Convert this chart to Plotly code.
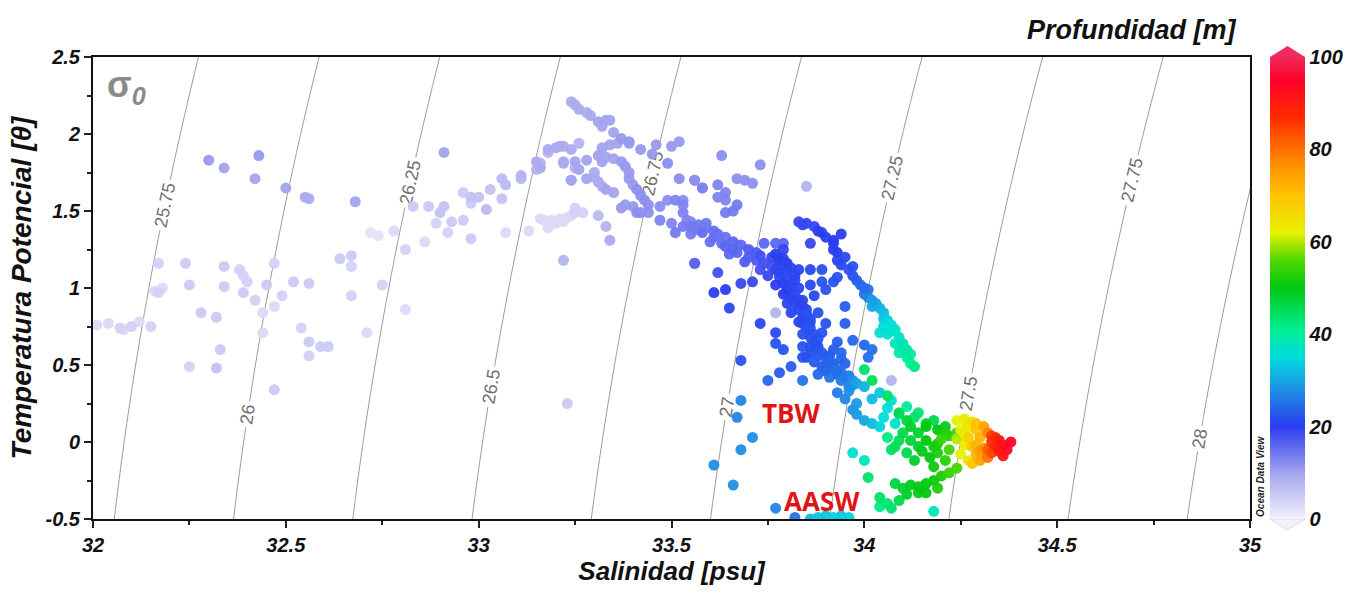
import numpy as np
import plotly.graph_objects as go

# ---------------- data ----------------
# surface scattered water (left part)
surf_S = [32.01, 32.04, 32.07, 32.08, 32.10, 32.12, 32.15, 32.16, 32.17, 32.18, 32.17, 32.24, 32.25, 32.34, 32.34,
          32.38, 32.39, 32.39, 32.40, 32.42, 32.45, 32.47, 32.47, 32.44, 32.49, 32.52, 32.56, 32.28, 32.32, 32.44,
          32.54, 32.56, 32.59, 32.61, 32.56, 32.33, 32.25, 32.32, 32.47, 32.64, 32.67, 32.67, 32.67, 32.75, 32.81,
          32.71, 32.72, 32.74, 32.78, 32.81, 32.30, 32.34, 32.43, 32.42, 32.50, 32.55, 32.56, 32.68, 32.91]
surf_T = [0.76, 0.77, 0.74, 0.73, 0.75, 0.78, 0.75, 0.98, 0.97, 1.00, 1.16, 1.16, 1.02, 1.14, 1.01,
          1.12, 1.08, 0.97, 1.04, 0.92, 1.02, 1.16, 0.88, 0.84, 0.95, 1.04, 1.03, 0.84, 0.81, 0.71,
          0.74, 0.65, 0.62, 0.62, 0.56, 0.60, 0.49, 0.48, 0.34, 1.19, 1.21, 1.14, 0.95, 1.02, 0.86,
          0.71, 1.36, 1.34, 1.37, 1.25, 1.83, 1.78, 1.86, 1.71, 1.65, 1.59, 1.58, 1.56, 1.88]
surf_D = [3, 3, 4, 3, 4, 3, 4, 3, 4, 3, 4, 5, 5, 5, 5,
          4, 4, 5, 4, 4, 5, 4, 3, 3, 4, 5, 5, 5, 5, 3,
          4, 5, 5, 5, 4, 5, 4, 6, 5, 5, 5, 4, 4, 4, 3,
          3, 2, 2, 3, 4, 11, 10, 11, 10, 10, 9, 9, 10, 10]

# arc between 32.8 and 33.35 psu
arc_S = [32.83, 32.87, 32.90, 32.91, 32.96, 32.98, 32.98, 33.00, 33.02, 33.03, 33.06, 33.06, 33.07, 33.11, 33.11,
         33.15, 33.16, 33.18, 33.21, 33.24, 33.22, 33.25, 33.24, 32.89, 32.93, 32.96, 32.92, 32.98, 32.86, 33.07,
         33.13, 33.16, 33.17, 33.19, 33.21, 33.23, 33.25, 33.25, 33.27, 33.18, 33.20, 33.22, 33.24, 33.31, 33.33,
         33.34, 33.22, 33.15, 33.16, 33.18, 33.20, 33.22, 33.26, 33.22, 33.25, 33.28, 33.26, 33.24, 33.28, 33.23]
arc_T = [1.53, 1.53, 1.49, 1.53, 1.62, 1.59, 1.55, 1.59, 1.51, 1.64, 1.71, 1.58, 1.67, 1.71, 1.73,
         1.77, 1.81, 1.88, 1.92, 1.90, 1.81, 1.78, 1.70, 1.42, 1.43, 1.44, 1.36, 1.32, 1.30, 1.36,
         1.37, 1.45, 1.44, 1.44, 1.45, 1.46, 1.49, 1.52, 1.49, 1.39, 1.42, 1.43, 1.47, 1.47, 1.40,
         1.31, 1.18, 1.82, 1.78, 1.90, 1.91, 1.92, 1.94, 1.82, 1.82, 1.83, 1.77, 1.70, 1.71, 0.25]
arc_D = [5, 5, 6, 6, 5, 6, 5, 6, 7, 6, 7, 6, 7, 7, 8,
         8, 8, 8, 9, 9, 9, 8, 9, 4, 5, 5, 4, 5, 3, 3,
         3, 3, 3, 3, 3, 3, 4, 4, 4, 3, 3, 3, 3, 7, 8,
         9, 8, 9, 9, 9, 9, 9, 8, 9, 10, 10, 10, 10, 10, 5]

# warm maximum near 33.3-33.7 psu
top_S = [33.24, 33.25, 33.26, 33.28, 33.29, 33.31, 33.33, 33.34, 33.32, 33.35, 33.37, 33.39, 33.39, 33.36, 33.34,
         33.32, 33.31, 33.32, 33.33, 33.35, 33.37, 33.38, 33.39, 33.39, 33.40, 33.41, 33.42, 33.43, 33.44, 33.44,
         33.41, 33.40, 33.38, 33.37, 33.30, 33.30, 33.31, 33.32, 33.33, 33.35, 33.42, 33.46, 33.50, 33.52, 33.42,
         33.45, 33.49, 33.63, 33.73, 33.56, 33.58, 33.67, 33.69, 33.71, 33.62, 33.64, 33.64, 33.85]
top_T = [2.21, 2.19, 2.16, 2.14, 2.12, 2.08, 2.09, 2.09, 2.05, 2.01, 1.97, 1.95, 1.94, 1.94, 1.93,
         1.91, 1.86, 1.82, 1.85, 1.84, 1.82, 1.79, 1.75, 1.71, 1.67, 1.64, 1.60, 1.57, 1.54, 1.49,
         1.49, 1.53, 1.54, 1.52, 1.75, 1.72, 1.69, 1.66, 1.64, 1.62, 1.49, 1.93, 1.92, 1.95, 1.90,
         1.87, 1.81, 1.86, 1.80, 1.70, 1.65, 1.71, 1.70, 1.68, 1.67, 1.62, 1.57, 1.66]
top_D = [9, 9, 9, 9, 9, 10, 10, 10, 10, 10, 11, 11, 11, 10, 10,
         10, 10, 10, 10, 10, 11, 11, 11, 11, 11, 12, 12, 12, 12, 12,
         12, 11, 11, 11, 9, 9, 9, 9, 10, 10, 12, 11, 11, 11, 11,
         11, 12, 12, 12, 12, 13, 12, 12, 12, 13, 13, 13, 8]

# main descending ribbon (lavender to blue)
rib_S = [33.52, 33.56, 33.58, 33.47, 33.49, 33.51, 33.53, 33.53, 33.54, 33.55, 33.57, 33.47, 33.50, 33.51, 33.56,
         33.53, 33.59, 33.62, 33.64, 33.67, 33.66,
         33.53, 33.56, 33.58, 33.61, 33.63, 33.64, 33.66, 33.67, 33.70, 33.72, 33.74, 33.76, 33.77, 33.78, 33.79,
         33.80, 33.81, 33.82, 33.83, 33.84, 33.84, 33.85, 33.86, 33.87, 33.88, 33.90, 33.92, 33.93, 33.95, 33.97,
         33.98, 33.55, 33.60, 33.65, 33.69, 33.73, 33.75, 33.77, 33.79, 33.80, 33.81, 33.83, 33.84, 33.86, 33.88,
         33.90, 33.93, 33.96,
         33.77, 33.78, 33.79, 33.78, 33.80, 33.80, 33.81, 33.79, 33.82, 33.76,
         33.84, 33.86, 33.88, 33.87, 33.89, 33.91, 33.90, 33.92, 33.85, 33.94, 33.88, 33.91,
         33.83, 33.86, 33.89, 33.93, 33.92, 33.89, 33.90, 33.84, 33.88, 33.90, 33.95, 33.89, 33.93, 33.97, 34.00,
         34.02, 34.01, 33.95, 33.94, 33.95, 33.84, 33.90, 33.86, 33.87, 33.85, 33.86,
         33.61, 33.64, 33.65, 33.68, 33.71, 33.74, 33.77, 33.79, 33.73, 33.77, 33.77, 33.79, 33.81, 33.78, 33.75,
         33.84, 33.62, 33.56, 33.68, 33.77, 34.07]
rib_T = [1.71, 1.70, 1.65, 1.53, 1.57, 1.57, 1.54, 1.49, 1.44, 1.40, 1.38, 1.44, 1.42, 1.36, 1.16,
         1.57, 1.42, 1.59, 1.49, 1.54, 1.50,
         1.40, 1.38, 1.36, 1.33, 1.29, 1.27, 1.25, 1.23, 1.20, 1.18, 1.16, 1.14, 1.12, 1.07, 1.03,
         0.99, 0.94, 0.90, 0.86, 0.81, 0.77, 0.73, 0.68, 0.64, 0.60, 0.55, 0.51, 0.47, 0.42, 0.40,
         0.38, 1.35, 1.30, 1.22, 1.17, 1.12, 1.08, 1.02, 0.96, 0.90, 0.84, 0.78, 0.70, 0.62, 0.56,
         0.50, 0.44, 0.36,
         1.22, 1.18, 1.15, 1.10, 1.12, 1.06, 1.01, 1.25, 1.08, 1.20,
         0.62, 0.58, 0.62, 0.52, 0.49, 0.56, 0.46, 0.60, 0.55, 0.54, 0.44, 0.42,
         1.12, 1.12, 1.12, 1.07, 1.04, 1.04, 0.99, 0.92, 0.84, 0.77, 0.77, 0.71, 0.65, 0.66, 0.63,
         0.60, 0.55, 0.88, 0.58, 0.51, 0.55, 0.47, 1.02, 0.95, 0.86, 0.78,
         0.97, 0.99, 0.87, 1.03, 1.04, 1.29, 1.29, 1.29, 0.77, 0.71, 0.64, 0.60, 0.49, 0.45, 0.40,
         0.40, 1.10, 1.16, 0.53, 0.84, 0.40]
rib_D = [12, 12, 13, 12, 12, 13, 13, 13, 13, 14, 14, 13, 13, 14, 15,
         12, 14, 13, 14, 14, 14,
         14, 14, 15, 15, 15, 16, 16, 16, 17, 17, 18, 18, 19, 19, 20,
         20, 20, 21, 21, 21, 21, 22, 22, 22, 22, 23, 24, 25, 26, 28,
         30, 14, 15, 16, 17, 18, 19, 20, 20, 21, 21, 21, 22, 22, 23,
         24, 25, 27,
         20, 20, 21, 21, 21, 21, 21, 19, 21, 19,
         22, 22, 22, 23, 23, 23, 24, 23, 22, 24, 24, 25,
         21, 21, 22, 22, 22, 22, 22, 21, 22, 22, 23, 22, 23, 24, 24,
         25, 25, 23, 24, 24, 22, 24, 21, 21, 21, 22,
         20, 20, 21, 19, 19, 16, 16, 16, 21, 21, 22, 22, 23, 23, 24,
         25, 18, 16, 22, 8, 8]

# denser parts of the ribbon core
core_S = [33.55, 33.57, 33.59, 33.61, 33.62, 33.64, 33.66, 33.68, 33.70, 33.72, 33.73,
          33.79, 33.80, 33.81, 33.82, 33.83, 33.82, 33.83, 33.84, 33.85, 33.86, 33.86, 33.87, 33.88,
          33.89, 33.91, 33.92, 33.94, 33.96, 33.94, 33.97]
core_T = [1.43, 1.41, 1.39, 1.37, 1.35, 1.33, 1.30, 1.28, 1.25, 1.23, 1.21,
          1.19, 1.16, 1.13, 1.05, 1.00, 0.96, 0.92, 0.88, 0.83, 0.80, 0.74, 0.70, 0.67,
          0.58, 0.52, 0.48, 0.45, 0.43, 0.40, 0.37]
core_D = [13, 14, 14, 15, 15, 15, 16, 16, 17, 17, 18,
          20, 20, 21, 21, 21, 21, 21, 21, 22, 22, 22, 22, 22,
          23, 24, 24, 25, 26, 26, 28]

# right-hand track (blue to cyan)
trk_S = [33.83, 33.85, 33.87, 33.88, 33.90, 33.92, 33.92, 33.93, 33.94, 33.92, 33.86, 33.93, 33.94, 33.96, 33.97,
         33.98, 33.99, 34.01, 34.01, 34.03, 34.04, 34.05, 34.06, 34.07, 34.08, 34.09, 34.10, 34.11, 34.11, 34.12,
         34.13, 34.04, 34.06, 34.08, 34.09, 34.05, 33.89, 33.84, 34.00, 34.02,
         33.95, 33.97, 34.00, 34.02, 34.05, 34.07, 34.10, 34.12]
trk_T = [1.43, 1.42, 1.40, 1.37, 1.33, 1.29, 1.25, 1.23, 1.35, 1.31, 1.29, 1.18, 1.15, 1.12, 1.08,
         1.05, 1.02, 0.99, 0.94, 0.90, 0.87, 0.84, 0.79, 0.76, 0.73, 0.68, 0.64, 0.60, 0.55, 0.51,
         0.49, 0.71, 0.70, 0.64, 0.58, 0.75, 1.36, 1.41, 0.96, 0.88,
         1.20, 1.14, 1.00, 0.92, 0.80, 0.72, 0.62, 0.57]
trk_D = [19, 19, 19, 20, 20, 20, 20, 20, 20, 20, 19, 21, 21, 22, 22,
         23, 24, 25, 27, 29, 31, 32, 34, 35, 36, 37, 38, 39, 40, 41,
         42, 36, 36, 38, 39, 35, 19, 19, 25, 30,
         21, 22, 25, 29, 33, 36, 38, 40]

# lower band (cyan to green)
low_S = [33.93, 33.95, 33.97, 33.98, 34.00, 34.02, 34.04, 34.00, 34.04, 34.07, 34.11, 34.14, 34.18, 34.21, 34.24,
         33.96, 34.02, 34.06, 34.09, 33.98, 34.05, 34.08, 34.00, 34.02, 34.06, 33.97, 34.00, 34.01, 34.04,
         34.13, 34.16, 34.19, 34.22]
low_T = [0.32, 0.28, 0.21, 0.18, 0.14, 0.12, 0.10, 0.36, 0.32, 0.27, 0.23, 0.19, 0.14, 0.10, 0.06,
         0.33, 0.28, 0.22, 0.18, 0.25, 0.16, 0.12, 0.47, 0.40, 0.30, -0.07, -0.12, -0.23, -0.36,
         0.16, 0.12, 0.08, 0.04]
low_D = [26, 27, 28, 29, 30, 32, 34, 31, 33, 36, 40, 43, 46, 49, 55,
         28, 32, 35, 38, 29, 35, 37, 44, 45, 44, 36, 38, 44, 44,
         44, 47, 50, 53]

# green cluster
grn_S = [34.09, 34.11, 34.12, 34.14, 34.16, 34.18, 34.19, 34.21, 34.19, 34.16, 34.21, 34.12, 34.14, 34.09, 34.08,
         34.11, 34.13, 34.17, 34.18, 34.07, 34.10, 34.15, 34.20, 34.22, 34.06]
grn_T = [0.19, 0.14, 0.10, 0.06, 0.01, -0.03, -0.07, -0.12, -0.01, 0.10, 0.06, 0.01, -0.03, 0.01, -0.03,
         -0.07, -0.12, -0.10, -0.16, -0.05, 0.06, -0.06, 0.02, -0.05, 0.03]
grn_D = [46, 47, 48, 48, 50, 51, 52, 53, 52, 50, 52, 47, 48, 45, 45,
         46, 48, 50, 51, 44, 46, 49, 54, 55, 42]

# deepest water (yellow, orange, red)
deep_S = [34.24, 34.26, 34.27, 34.25, 34.28, 34.24, 34.26, 34.25, 34.27,
          34.29, 34.30, 34.31, 34.28, 34.29, 34.31, 34.30, 34.32, 34.27, 34.28,
          34.33, 34.34, 34.35, 34.36, 34.37, 34.35, 34.38, 34.33, 34.36, 34.32, 34.34,
          34.26, 34.29, 34.30, 34.32, 34.29, 34.33, 34.35]
deep_T = [0.14, 0.15, 0.10, 0.08, 0.13, 0.02, -0.02, -0.08, -0.12,
          0.08, 0.03, 0.10, -0.03, -0.08, -0.04, -0.12, 0.06, 0.03, -0.14,
          0.00, -0.03, 0.01, -0.02, -0.05, -0.06, 0.00, -0.07, -0.09, -0.05, 0.03,
          0.05, 0.12, -0.06, -0.10, -0.02, 0.04, -0.03]
deep_D = [62, 63, 64, 62, 66, 60, 63, 62, 65,
          70, 72, 74, 70, 72, 76, 74, 78, 68, 70,
          86, 88, 90, 92, 93, 90, 95, 84, 91, 82, 87,
          64, 70, 75, 80, 72, 85, 89]

# lower green tail
tail_S = [34.24, 34.22, 34.20, 34.18, 34.16, 34.14, 34.12, 34.10, 34.08, 34.11, 34.09, 34.14, 34.06, 34.04, 34.07,
          34.19, 34.16, 34.18]
tail_T = [-0.17, -0.20, -0.22, -0.25, -0.27, -0.29, -0.28, -0.30, -0.27, -0.34, -0.38, -0.33, -0.40, -0.42, -0.43,
          -0.30, -0.33, -0.45]
tail_D = [55, 54, 52, 51, 50, 50, 49, 48, 47, 48, 46, 49, 43, 42, 44,
          52, 50, 38]

# blue dots (TBW) and bottom cyan cluster (AASW)
cold_S = [33.68, 33.67, 33.71, 33.68, 33.61, 33.66, 33.77, 33.82,
          33.86, 33.88, 33.90, 33.92, 33.94, 33.96]
cold_T = [0.27, 0.16, 0.03, -0.05, -0.15, -0.28, -0.43, -0.49,
          -0.50, -0.49, -0.48, -0.49, -0.48, -0.49]
cold_D = [27, 27, 28, 28, 28, 28, 27, 25,
          32, 33, 33, 34, 33, 34]

sigma_levels = dict(start=25.75, end=28.0, size=0.25)
x_ticks = [32, 32.5, 33, 33.5, 34, 34.5, 35]
y_ticks = [-0.5, 0, 0.5, 1, 1.5, 2, 2.5]
y_ticktext = ["-0.5", "0", "0.5", "1", "1.5", "2", "2.5"]
cbar_ticks = [0, 20, 40, 60, 80, 100]

# ---------------- assemble ----------------
S = np.array(surf_S + arc_S + top_S + rib_S + core_S + trk_S + low_S + grn_S + deep_S + tail_S + cold_S)
T = np.array(surf_T + arc_T + top_T + rib_T + core_T + trk_T + low_T + grn_T + deep_T + tail_T + cold_T)
D = np.array(surf_D + arc_D + top_D + rib_D + core_D + trk_D + low_D + grn_D + deep_D + tail_D + cold_D)
order = np.argsort(D, kind="stable")
S, T, D = S[order], T[order], D[order]

# potential density anomaly (UNESCO EOS-80, p = 0)
def sigma0(s, t):
    rw = (999.842594 + 6.793952e-2 * t - 9.095290e-3 * t**2 + 1.001685e-4 * t**3
          - 1.120083e-6 * t**4 + 6.536332e-9 * t**5)
    a = 0.824493 - 4.0899e-3 * t + 7.6438e-5 * t**2 - 8.2467e-7 * t**3 + 5.3875e-9 * t**4
    b = -5.72466e-3 + 1.0227e-4 * t - 1.6546e-6 * t**2
    c = 4.8314e-4
    return rw + a * s + b * s**1.5 + c * s**2 - 1000.0

sg = np.linspace(31.9, 35.1, 161)
tg = np.linspace(-0.6, 2.6, 81)
SS, TT = np.meshgrid(sg, tg)
Z = sigma0(SS, TT)

colorscale = [
    [0.00, "#f3f1fb"],
    [0.10, "#a3a3ee"],
    [0.20, "#2b3df0"],
    [0.28, "#1f8fe6"],
    [0.35, "#00dcdc"],
    [0.41, "#00ee94"],
    [0.50, "#00c810"],
    [0.56, "#50d800"],
    [0.62, "#e6f200"],
    [0.70, "#ffc400"],
    [0.78, "#ff8400"],
    [0.87, "#ff2a00"],
    [0.95, "#ff0028"],
    [1.00, "#ef2a5c"],
]

font_family = "Liberation Sans, Arial, sans-serif"

fig = go.Figure()
fig.add_trace(go.Contour(
    x=sg, y=tg, z=Z,
    contours=dict(**sigma_levels, coloring="lines", showlabels=True,
                  labelfont=dict(family=font_family, size=18, color="#6e6e6e")),
    colorscale=[[0, "#9a9a9a"], [1, "#9a9a9a"]],
    line=dict(width=1, smoothing=1),
    showscale=False, hoverinfo="skip",
))
fig.add_trace(go.Scatter(
    x=S, y=T, mode="markers",
    marker=dict(size=11, color=D, cmin=0, cmax=100, colorscale=colorscale, opacity=0.95,
                line=dict(width=0),
                colorbar=dict(thickness=35, len=462, lenmode="pixels", x=1.0173, xanchor="left",
                              y=0.5, yanchor="middle", xpad=0, ypad=0, outlinewidth=0,
                              tickvals=cbar_ticks, ticks="", ticklabelposition="outside",
                              tickfont=dict(family=font_family, size=20, color="#111",
                                            weight="bold", style="italic"))),
    showlegend=False, hoverinfo="skip",
))

tickfont = dict(family=font_family, size=20, color="#111", weight="bold", style="italic")
xtitlefont = dict(family=font_family, size=26, color="#111", weight="bold", style="italic")
ytitlefont = dict(family=font_family, size=28, color="#111", weight="bold", style="italic")

fig.update_xaxes(range=[32, 35], tickvals=x_ticks, ticks="outside", ticklen=7, tickwidth=1.5,
                 tickcolor="#222", showline=True, mirror=True, linecolor="#111", linewidth=2,
                 showgrid=False, zeroline=False, tickfont=tickfont,
                 minor=dict(dtick=0.25, ticks="outside", ticklen=4, tickcolor="#222"),
                 title=dict(text="Salinidad [psu]", font=xtitlefont, standoff=4))
fig.update_yaxes(range=[-0.5, 2.5], tickvals=y_ticks, ticktext=y_ticktext, ticks="outside", ticklen=7,
                 tickwidth=1.5, tickcolor="#222", showline=True, mirror=True, linecolor="#111", linewidth=2,
                 showgrid=False, zeroline=False, tickfont=tickfont,
                 minor=dict(dtick=0.25, ticks="outside", ticklen=4, tickcolor="#222"),
                 title=dict(text="Temperatura Potencial [θ]", font=ytitlefont, standoff=6))

# pointed ends of the colour bar (ODV style)
cb_x0, cb_x1 = 1.0173, 1.0475
cb_xm = (cb_x0 + cb_x1) / 2
shapes = [
    dict(type="path", xref="paper", yref="paper",
         path=f"M {cb_x0} 1 L {cb_xm} 1.024 L {cb_x1} 1 Z",
         fillcolor="#ef2a5c", line=dict(width=0)),
    dict(type="path", xref="paper", yref="paper",
         path=f"M {cb_x0} 0 L {cb_xm} -0.024 L {cb_x1} 0 Z",
         fillcolor="#f3f1fb", line=dict(width=0.6, color="#c8c8d8")),
]

fig.update_layout(
    width=1352, height=593,
    margin=dict(l=93, r=102, t=57, b=74),
    paper_bgcolor="white", plot_bgcolor="white",
    showlegend=False,
    shapes=shapes,
    annotations=[
        dict(text="Profundidad [m]", xref="paper", yref="paper", x=1.0, y=1.0, xanchor="right",
             yanchor="bottom", yshift=10, xshift=-12, showarrow=False,
             font=dict(family=font_family, size=27, color="#111", weight="bold", style="italic")),
        dict(text="σ<sub><i>0</i></sub>", xref="paper", yref="paper", x=0.01, y=0.99, xanchor="left",
             yanchor="top", showarrow=False,
             font=dict(family=font_family, size=36, color="#8a8a8a", weight="bold")),
        dict(text="TBW", x=33.81, y=0.19, showarrow=False,
             font=dict(family="Open Sans, sans-serif", size=26, color="#dd1515", weight="bold")),
        dict(text="AASW", x=33.89, y=-0.38, showarrow=False,
             font=dict(family="Open Sans, sans-serif", size=26, color="#dd1515", weight="bold")),
        dict(text="Ocean Data View", xref="paper", yref="paper", x=1.009, y=0.0, xanchor="center",
             yanchor="bottom", textangle=-90, showarrow=False,
             font=dict(family=font_family, size=10, color="#222", weight="bold", style="italic")),
    ],
)

fig.write_html("out.html")
